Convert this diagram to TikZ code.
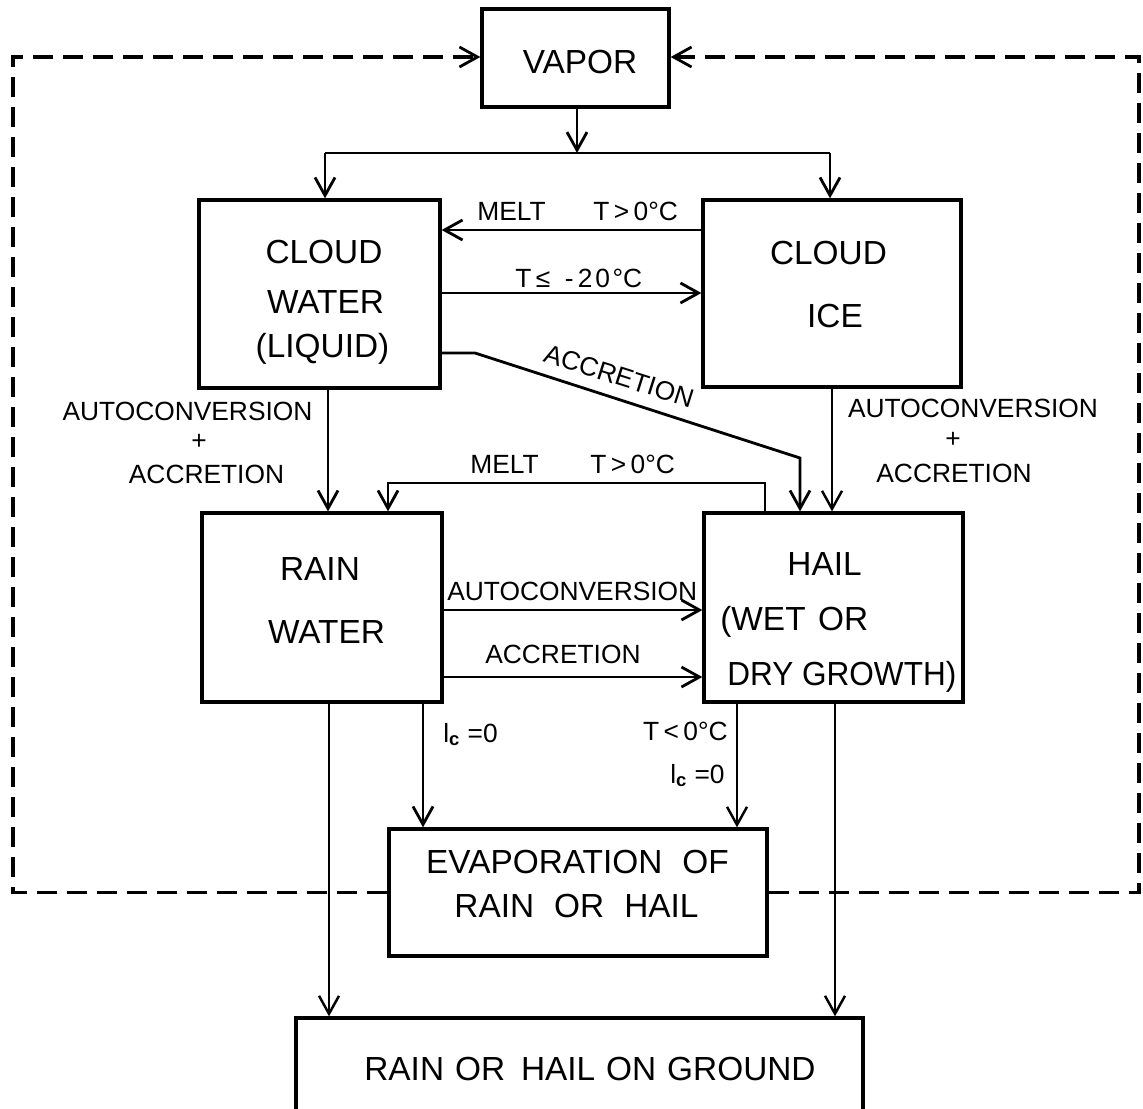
\documentclass[tikz,border=0pt]{standalone}
\usepackage{fontspec}
\usepackage{graphicx}
\setmainfont{Liberation Sans}
\usetikzlibrary{arrows.meta,calc}
\begin{document}
\begin{tikzpicture}[x=0.02cm,y=-0.02cm,
  box/.style={draw,line width=1.9pt,inner sep=0pt,rectangle},
  bt/.style={font=\fontsize{19}{23}\selectfont,inner sep=0pt,anchor=base},
  lb/.style={font=\fontsize{15}{18}\selectfont,inner sep=0pt,anchor=base},
  conn/.style={line width=1.6pt},
  arr/.style={conn,-{Straight Barb[length=0.36cm,width=0.4cm,line width=1.6pt]}},
  thinarr/.style={line width=1.2pt,-{Straight Barb[length=0.36cm,width=0.4cm,line width=1.4pt]}},
  dsh/.style={line width=2pt,dash pattern=on 0.4cm off 0.2cm,-{Straight Barb[length=0.36cm,width=0.4cm,line width=1.6pt]}}]
\useasboundingbox (0,0) rectangle (1143,1109);

% boxes
\node[box,minimum width=3.74cm,minimum height=1.96cm] (vapor) at (575.5,58) {};
\node[box,minimum width=4.82cm,minimum height=3.76cm] (cw) at (319.5,294) {};
\node[box,minimum width=5.16cm,minimum height=3.74cm] (ci) at (832,293.5) {};
\node[box,minimum width=4.8cm,minimum height=3.78cm] (rain) at (322,607.5) {};
\node[box,minimum width=5.18cm,minimum height=3.78cm] (hail) at (833.5,607.5) {};
\node[box,minimum width=7.56cm,minimum height=2.54cm] (evap) at (578,892.5) {};
\node[box,minimum width=11.34cm,minimum height=2.0cm] (ground) at (579.5,1068) {};

% box texts
\node[bt] (tvapor) at (580,73) {VAPOR};
\node[bt] (tcw1) at (324,263) {CLOUD};
\node[bt] (tcw2) at (325.5,313) {WATER};
\node[bt] (tcw3) at (322.5,357) {(LIQUID)};
\node[bt] (tci1) at (828.5,264) {CLOUD};
\node[bt] (tci2) at (835,327) {ICE};
\node[bt] (tr1) at (320,580) {RAIN};
\node[bt] (tr2) at (326.5,643) {WATER};
\node[bt] (th1) at (824.5,575) {HAIL};
\node[bt,anchor=base west] (th2) at (720,630) {(WET\hspace{0.1em} OR};
\node[bt,anchor=base west] (th3) at (727,685) {\scalebox{0.945}[1]{DRY GROWTH)}};
\node[bt] (te1) at (577.5,873) {EVAPORATION\hspace{0.6em}OF};
\node[bt] (te2) at (576.5,917) {RAIN\hspace{0.6em}OR\hspace{0.6em}HAIL};
\node[bt] (tg) at (590,1080) {RAIN\hspace{0.05em} OR\hspace{0.2em} HAIL\hspace{0.05em} ON\hspace{0.05em} GROUND};

% lane coordinates
\coordinate (brC) at (577,153);
\coordinate (brL) at (325,153);
\coordinate (brR) at (830,153);
\coordinate (yMelt) at (0,230);
\coordinate (yCold) at (0,293);
\coordinate (yAcc) at (0,353);
\coordinate (accK) at (475,353);
\coordinate (accD) at (800,458);
\coordinate (xCR) at (328,0);
\coordinate (xIH) at (832,0);
\coordinate (mR) at (765,483);
\coordinate (mL) at (388,483);
\coordinate (yAuto) at (0,610);
\coordinate (yAcc2) at (0,677);
\coordinate (xRG) at (329,0);
\coordinate (xHG) at (835,0);
\coordinate (xLc) at (423,0);
\coordinate (xTc) at (737,0);
\coordinate (dBL) at (13,892.5);
\coordinate (dTL) at (13,57);
\coordinate (dBR) at (1139,892.5);
\coordinate (dTR) at (1139,57);

% connectors
\draw[arr] (vapor.south -| brC) -- (brC);
\draw[conn] (brL) -- (brR);
\draw[arr] (brL) -- (cw.north -| brL);
\draw[arr] (brR) -- (ci.north -| brR);
\draw[arr] (ci.west |- yMelt) -- (cw.east |- yMelt);
\draw[arr] (cw.east |- yCold) -- (ci.west |- yCold);
\draw[arr] (cw.east |- yAcc) -- (accK) -- (accD) -- (hail.north -| accD);
\draw[arr] (cw.south -| xCR) -- (rain.north -| xCR);
\draw[thinarr] (ci.south -| xIH) -- (hail.north -| xIH);
\draw[arr] (hail.north -| mR) -- (mR) -- (mL) -- (rain.north -| mL);
\draw[arr] (rain.east |- yAuto) -- (hail.west |- yAuto);
\draw[arr] (rain.east |- yAcc2) -- (hail.west |- yAcc2);
\draw[thinarr] (rain.south -| xRG) -- (ground.north -| xRG);
\draw[thinarr] (hail.south -| xHG) -- (ground.north -| xHG);
\draw[arr] (rain.south -| xLc) -- (evap.north -| xLc);
\draw[thinarr] (hail.south -| xTc) -- (evap.north -| xTc);
\draw[dsh] (evap.west) -- (dBL) -- (dTL) -- (vapor.west |- dTL);
\draw[dsh] (evap.east) -- (dBR) -- (dTR) -- (vapor.east |- dTR);

% labels
\node[lb,anchor=base west] (lm1) at (477,220) {MELT};
\node[lb,anchor=base west] (lt1) at (593,220) {T\,>\,0°C};
\node[lb,anchor=base west] (lcold) at (515,287) {T\,≤\hspace{0.55em}-\,{\addfontfeature{LetterSpace=10}20°}C};
\node[lb,rotate=-17.6,anchor=center] (lacc) at (619,376) {ACCRETION};
\node[lb] (lal1) at (187.5,420) {AUTOCONVERSION};
\node[lb,anchor=center] (lal2) at (199,442) {+};
\node[lb] (lal3) at (206.5,483) {ACCRETION};
\node[lb] (lar1) at (973,417) {AUTOCONVERSION};
\node[lb,anchor=center] (lar2) at (953,440) {+};
\node[lb] (lar3) at (954,482) {ACCRETION};
\node[lb,anchor=base west] (lm2) at (470,473) {MELT};
\node[lb,anchor=base west] (lt2) at (590,473) {T\,>\,0°C};
\node[lb,anchor=base west] (lauto) at (447,600) {AUTOCONVERSION};
\node[lb,anchor=base west] (lacc2) at (485,663) {ACCRETION};
\node[lb,anchor=base west] (llc1) at (443,742) {l\textsubscript{\bfseries c} =0};
\node[lb,anchor=base east] (ltc) at (728,740) {T\,<\,0°C};
\node[lb,anchor=base east] (llc2) at (725,783) {l\textsubscript{\bfseries c} =0};
\end{tikzpicture}
\end{document}
